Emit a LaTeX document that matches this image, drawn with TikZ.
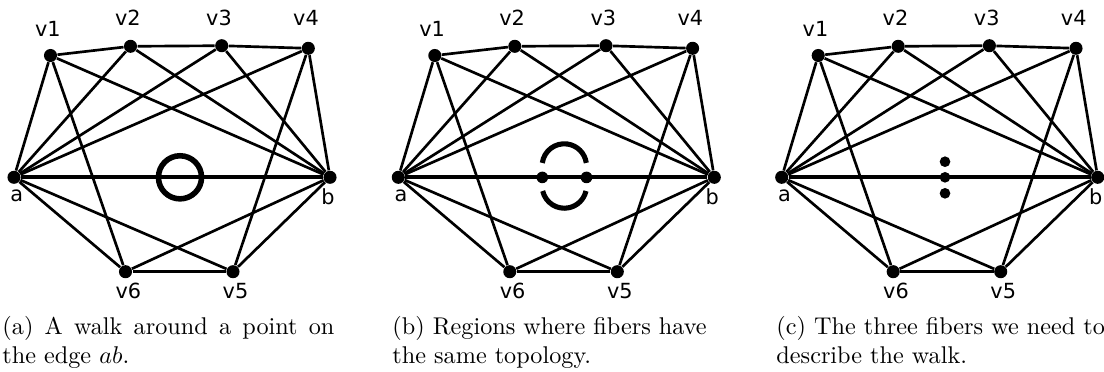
\documentclass[tikz,border=0pt]{standalone}
\usepackage{fontspec}
\newfontfamily\labfont{DejaVu Sans}
\newcommand\graphpanel[2]{%
  \begin{scope}[shift={(#2,0)}]
    \node[vtx] (v1#1) at (50.5,55.5) {};
    \node[vtx] (v2#1) at (130.5,46.3) {};
    \node[vtx] (v3#1) at (221.7,45.7) {};
    \node[vtx] (v4#1) at (308.3,48.3) {};
    \node[vtx] (a#1) at (14,177.3) {};
    \node[vtx] (b#1) at (330,177.3) {};
    \node[vtx] (v6#1) at (125.5,271.7) {};
    \node[vtx] (v5#1) at (233,271.7) {};
    \foreach \p/\q in {v1/v2,v2/v3,v3/v4,v5/v6,a/v1,a/v2,a/v3,a/v4,a/v6,a/v5,
                       b/v1,b/v2,b/v3,b/v4,b/v6,b/v5,v1/v6,v4/v5}
      \draw[edge] (\p#1) -- (\q#1);
    \draw[mainedge] (a#1) -- (b#1);
    \node[lbl] (l1#1) at (47.8,36) {v1};
    \node[lbl] (l2#1) at (127.8,25) {v2};
    \node[lbl] (l3#1) at (219,25) {v3};
    \node[lbl] (l4#1) at (306,25) {v4};
    \node[lbl] (la#1) at (16.7,201.3) {a};
    \node[lbl] (lb#1) at (328,204) {b};
    \node[lbl] (l6#1) at (128.3,298.3) {v6};
    \node[lbl] (l5#1) at (235.5,298.2) {v5};
  \end{scope}}
\begin{document}
\begin{tikzpicture}[x=0.413pt,y=-0.413pt,
  vtx/.style={circle,fill=black,inner sep=0pt,minimum size=5.4pt},
  edge/.style={line width=1.1pt},
  mainedge/.style={line width=1.5pt},
  fiber/.style={line width=2.1pt},
  cdot/.style={circle,fill=black,inner sep=0pt,minimum size=4.4pt},
  lbl/.style={font=\labfont\fontsize{8.6}{10}\selectfont,anchor=base,inner sep=0pt},
  captext/.style={anchor=base west,inner sep=0pt,font=\fontsize{10}{12}\selectfont}]
  \useasboundingbox (0,0) rectangle (1104,371);
  % panel (a)
  \graphpanel{A}{0}
  \node[circle,draw,line width=2.3pt,minimum size=17.8pt,inner sep=0pt] (ringA) at (180,177.3) {};
  % panel (b)
  \graphpanel{B}{384.3}
  \begin{scope}[shift={(384.3,0)}]
    \node[cdot,minimum size=4.8pt] (dotB1) at (158,177.4) {};
    \node[cdot,minimum size=4.8pt] (dotB2) at (202.2,177.4) {};
    \draw[fiber] (158.0,162.9) arc[start angle=172,end angle=8,radius=9.17pt];
    \draw[fiber] (158.4,191) arc[start angle=193,end angle=347,radius=9.17pt];
  \end{scope}
  % panel (c)
  \graphpanel{C}{767.7}
  \begin{scope}[shift={(767.7,0)}]
    \node[cdot] (dotC1) at (177.3,161.7) {};
    \node[cdot] (dotC2) at (177.3,177.3) {};
    \node[cdot] (dotC3) at (177.3,193.3) {};
  \end{scope}
  % captions
  \node[captext] (capA) at (2,334.3) {\parbox[t]{137.1pt}{(a) A walk around a point on the edge $ab$.}};
  \node[captext] (capB) at (392,334.8) {\parbox[t]{140pt}{\raggedright (b) Regions where fibers have the same topology.}};
  \node[captext] (capC) at (776,334.8) {\parbox[t]{140pt}{\raggedright (c) The three fibers we need to describe the walk.}};
\end{tikzpicture}
\end{document}
